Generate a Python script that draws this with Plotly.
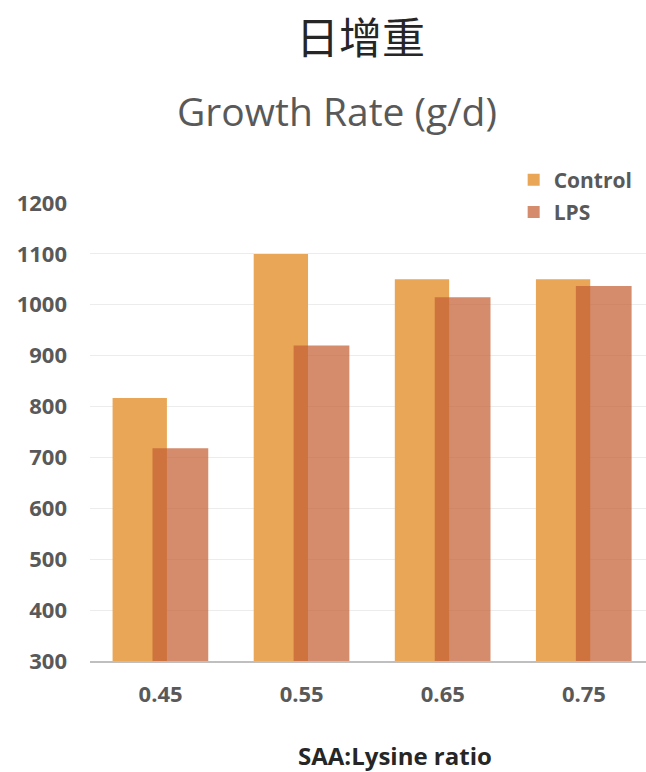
import plotly.graph_objects as go

# Growth rate by SAA:Lysine ratio, control vs LPS challenge
categories = ["0.45", "0.55", "0.65", "0.75"]
control = [817, 1100, 1050, 1050]
lps = [718, 920, 1015, 1037]
y_ticks = [300, 400, 500, 600, 700, 800, 900, 1000, 1100, 1200]

x_pos = list(range(len(categories)))

fig = go.Figure()
fig.add_trace(go.Bar(
    x=x_pos, y=[v - 300 for v in control], base=300,
    name="Control", legendgroup="c",
    marker=dict(color="rgb(233,166,86)", line=dict(width=0)),
    width=0.385, offset=-0.34,
))
fig.add_trace(go.Bar(
    x=x_pos, y=[v - 300 for v in lps], base=300,
    name="LPS", legendgroup="l",
    marker=dict(color="rgba(196,96,52,0.72)", line=dict(width=0)),
    width=0.395, offset=-0.057,
))

tick_font = dict(family="Open Sans", size=22, color="#595959", weight="bold")

fig.update_layout(
    width=646, height=772,
    margin=dict(l=90, r=0, t=203, b=111),
    paper_bgcolor="white", plot_bgcolor="white",
    barmode="overlay",
    showlegend=True,
    legend=dict(
        x=0.762, y=1.095, xanchor="left", yanchor="top",
        font=dict(family="Open Sans", size=21, color="#595959", weight="bold"),
        bgcolor="rgba(0,0,0,0)", tracegroupgap=2, itemwidth=30,
        traceorder="grouped",
    ),
    xaxis=dict(
        range=[-0.5, 3.44],
        tickmode="array", tickvals=x_pos, ticktext=categories,
        tickfont=tick_font, showgrid=False,
        showline=True, linecolor="#BFBFBF", linewidth=2,
        ticks="", ticklabelstandoff=13,
    ),
    yaxis=dict(
        range=[300, 1200],
        tickmode="array", tickvals=y_ticks,
        tickfont=tick_font,
        showgrid=True, gridcolor="#ECECEC", gridwidth=1,
        zeroline=False, showline=False, ticks="",
        ticklabelstandoff=22,
    ),
    annotations=[
        dict(text="日增重", x=360, y=35, xref="paper", yref="paper",
             showarrow=False, font=dict(family="Noto Sans CJK SC", size=43, color="#262626")),
        dict(text="Growth Rate (g/d)", x=337, y=111, xref="paper", yref="paper",
             showarrow=False, font=dict(family="Open Sans", size=39, color="#595959")),
        dict(text="SAA:Lysine ratio", x=395, y=755, xref="paper", yref="paper",
             showarrow=False, font=dict(family="Open Sans", size=24, color="#262626", weight="bold")),
    ],
)

# Annotation positions above are given in pixels; convert them to paper coordinates
plot_w = 646 - 90 - 0
plot_h = 772 - 203 - 111
for ann in fig.layout.annotations:
    px, py = ann.x, ann.y
    ann.x = (px - 90) / plot_w
    ann.y = (772 - 111 - py) / plot_h
    ann.xanchor = "center"
    ann.yanchor = "middle"

fig.write_html("out.html")
